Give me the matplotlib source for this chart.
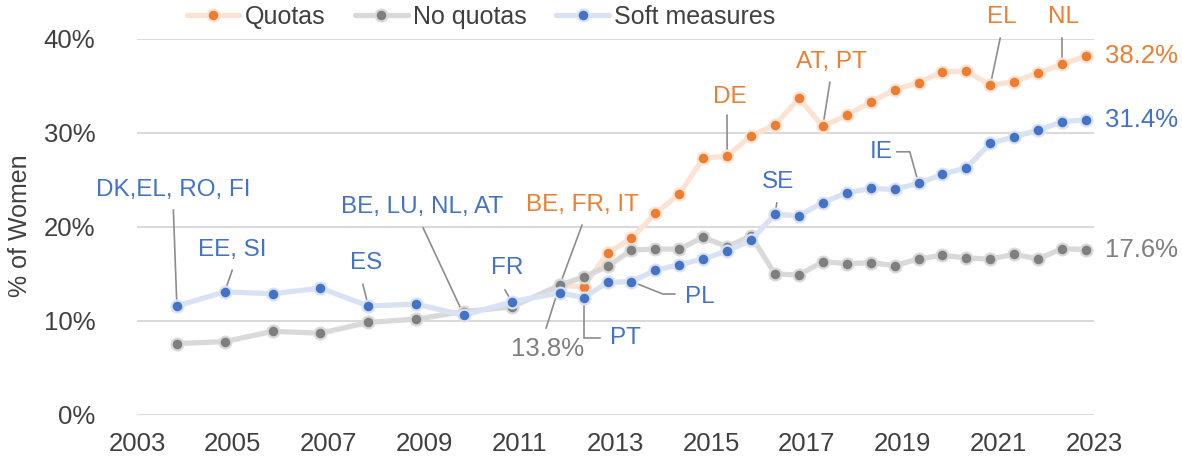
import matplotlib
matplotlib.use("Agg")
from matplotlib import pyplot as plt

plt.rcParams['font.family'] = ['Liberation Sans', 'DejaVu Sans']

# Survey rounds (October yearly until 2011, then April / October)
periods = ["2003-10", "2004-10", "2005-10", "2006-10", "2007-10", "2008-10",
           "2009-10", "2010-10", "2011-10",
           "2012-04", "2012-10", "2013-04", "2013-10", "2014-04", "2014-10",
           "2015-04", "2015-10", "2016-04", "2016-10", "2017-04", "2017-10",
           "2018-04", "2018-10", "2019-04", "2019-10", "2020-04", "2020-10",
           "2021-04", "2021-10", "2022-04", "2022-10"]

# % of women on boards
soft_measures = [11.6, 13.1, 12.9, 13.5, 11.6, 11.8, 10.6, 12.05, 13.0,
                 12.5, 14.1, 14.2, 15.4, 16.0, 16.6, 17.45, 18.6, 21.35, 21.2,
                 22.6, 23.65, 24.1, 24.0, 24.65, 25.6, 26.3, 28.9, 29.6, 30.3,
                 31.2, 31.4]
no_quotas = [7.6, 7.8, 8.9, 8.7, 9.85, 10.2, 11.0, 11.5, 13.8,
             14.7, 15.8, 17.55, 17.65, 17.65, 18.9, 17.9, 19.05, 15.0, 14.9,
             16.3, 16.1, 16.2, 15.9, 16.6, 17.0, 16.7, 16.6, 17.1, 16.6,
             17.7, 17.6]
quotas_start = 8  # quotas series starts in 2011-10
quotas = [13.8, 13.65, 17.2, 18.8, 21.45, 23.5, 27.3, 27.55, 29.7, 30.85,
          33.7, 30.7, 31.9, 33.3, 34.6, 35.35, 36.5, 36.6, 35.1, 35.45,
          36.4, 37.3, 38.2]

def to_year(p):
    y, m = p.split("-")
    return int(y) + int(m) / 12

x = [to_year(p) for p in periods]
xq = x[quotas_start:]

ORANGE, ORANGE_L = '#ED7D31', '#FBE3D3'
GREY, GREY_L = '#7F7F7F', '#D9D9D9'
BLUE, BLUE_L = '#4472C4', '#D9E2F3'
LEADER = '#8C8C8C'
TXT = '#404040'

fig = plt.figure(figsize=(11.82, 4.63), dpi=100)
ax = fig.add_axes([137/1182, 1 - 415/463, (1094-137)/1182, (415-39)/463])

def series(xs, ys, dark, light, name, z):
    ax.plot(xs, ys, color=light, lw=3.8, marker='o', ms=8.5, mfc=dark,
            mec=light, mew=1.6, label=name, zorder=z, clip_on=False,
            solid_joinstyle='round', solid_capstyle='round')

series(xq, quotas, ORANGE, ORANGE_L, 'Quotas', 3)
series(x, no_quotas, GREY, GREY_L, 'No quotas', 4)
series(x, soft_measures, BLUE, BLUE_L, 'Soft measures', 5)

ax.set_xlim(2003, 2023)
ax.set_ylim(0, 40)
ax.set_xticks(range(2003, 2024, 2))
ax.set_yticks(range(0, 41, 10))
ax.set_yticklabels([f'{v}%' for v in range(0, 41, 10)])
ax.tick_params(length=0, labelsize=18.5, labelcolor=TXT)
ax.tick_params(axis='y', pad=30)
ax.tick_params(axis='x', pad=12)
ax.grid(axis='y', color=GREY_L, lw=1.4)
ax.set_axisbelow(True)
for s in ax.spines.values():
    s.set_visible(False)

fig.text(20/1182, 1 - 226/463, '% of Women', rotation=90, ha='center',
         va='center', fontsize=18, color=TXT)

ax.legend(loc='center', bbox_to_anchor=(0.3595, 1.0585), ncol=3, frameon=False,
          fontsize=18, handlelength=2.1, columnspacing=1.2, handletextpad=0.2,
          labelcolor=TXT)

def note(text, color, tx, ty, path, size=17.5):
    ax.text(tx, ty, text, color=color, fontsize=size, ha='center', va='center',
            zorder=6, clip_on=False)
    xs, ys = zip(*path)
    ax.plot(xs, ys, color=LEADER, lw=1.2, zorder=2, clip_on=False)

b = lambda i: (x[i], soft_measures[i])
g = lambda i: (x[i], no_quotas[i])
q = lambda i: (x[i], quotas[i - quotas_start])

note('DK,EL, RO, FI', BLUE, 2003.76, 23.9, [(2003.76, 21.8), b(0)])
note('EE, SI', BLUE, 2004.99, 17.55, [(2004.99, 15.4), b(1)])
note('ES', BLUE, 2007.79, 16.2, [(2007.72, 13.9), b(4)])
note('BE, LU, NL, AT', BLUE, 2008.96, 22.1, [(2008.98, 19.9), b(6)])
note('FR', BLUE, 2010.73, 15.6, [(2010.69, 13.3), b(7)])
note('BE, FR, IT', ORANGE, 2012.3, 22.3, [(2012.3, 20.2), q(8)])
note('13.8%', GREY, 2011.57, 7.0, [(2011.55, 9.25), g(8)], size=18.5)
note('PT', BLUE, 2013.2, 8.2, [b(9), (x[9], 8.2), (2012.68, 8.2)])
note('PL', BLUE, 2014.77, 12.55, [b(11), (2013.99, 12.87), (2014.24, 12.87)])
note('DE', ORANGE, 2015.39, 33.8, [(2015.33, 31.9), q(15)])
note('SE', BLUE, 2016.4, 24.8, [(2016.37, 22.55), b(17)])
note('AT, PT', ORANGE, 2017.52, 37.55, [(2017.48, 35.4), q(19)])
note('IE', BLUE, 2018.55, 28.0, [(2018.88, 28.0), (2019.15, 28.0), b(23)])
note('EL', ORANGE, 2021.08, 42.3, [(2021.04, 40.1), q(26)])
note('NL', ORANGE, 2022.37, 42.3, [(2022.33, 40.1), q(29)])

# end-of-series values
for vals, col in [(quotas, ORANGE), (soft_measures, BLUE), (no_quotas, GREY)]:
    ax.text(2023.22, vals[-1], f'{vals[-1]:.1f}%', color=col, fontsize=18.5,
            ha='left', va='center', clip_on=False)

fig.savefig('out.png', dpi=100)
